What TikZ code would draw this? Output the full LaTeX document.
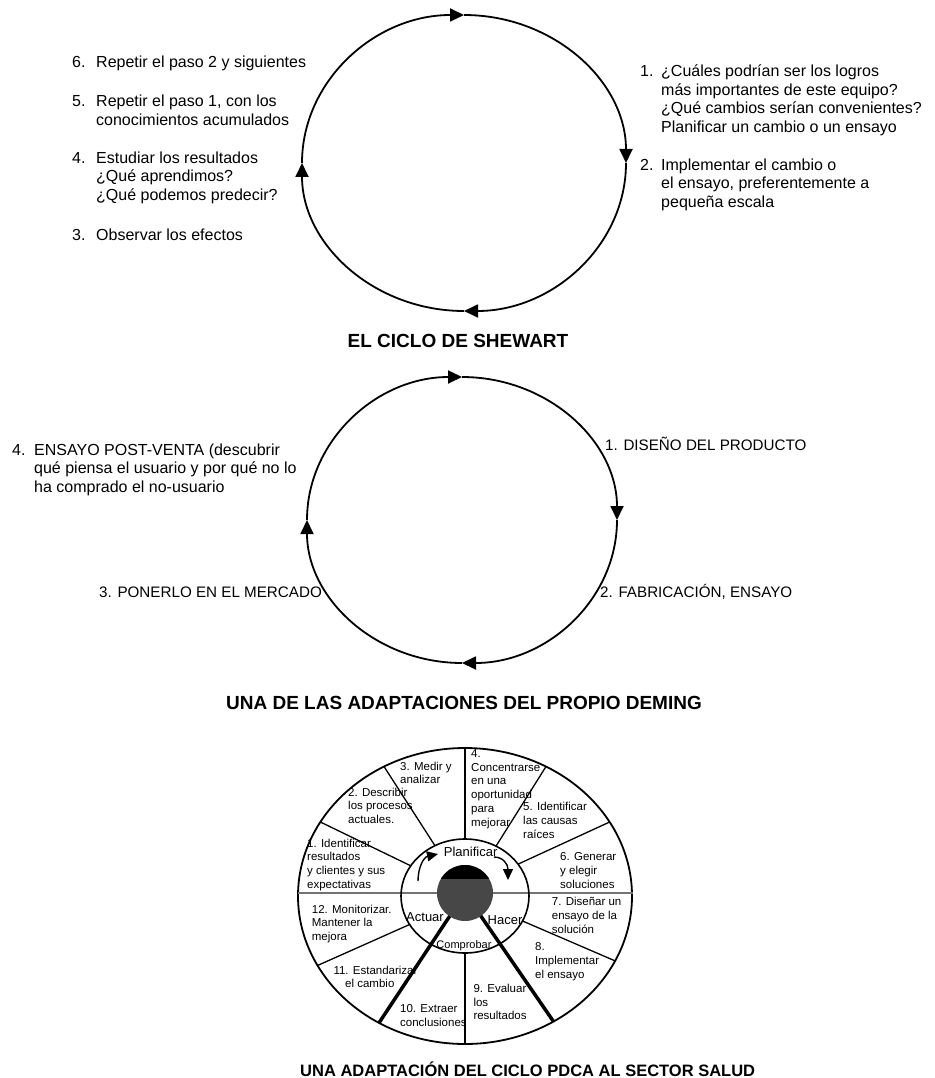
\documentclass[tikz,border=0pt]{standalone}
\usepackage{fontspec}
\setmainfont{Liberation Sans}
\usetikzlibrary{arrows.meta,calc}

% one block of left-aligned lines, baseline on the first line
\newcommand{\txtblock}[1]{\begin{tabular}[t]{@{}l@{}}#1\end{tabular}}
% numbered item with hanging indent: #1 indent, #2 number, #3 rows
\newcommand{\numitem}[3]{\begin{tabular}[t]{@{}p{#1}@{}l@{}}#2 & #3\end{tabular}}

\tikzset{
  cycarrow/.style={line width=1.8pt, -{Triangle[length=14pt,width=13pt]}},
  steptext/.style={inner sep=0pt, anchor=base west, font=\fontsize{16}{18.5}\selectfont},
  capstext/.style={inner sep=0pt, anchor=base west, font=\fontsize{15.2}{18.5}\selectfont},
  segtext/.style={inner sep=0pt, anchor=base west, font=\fontsize{11.5}{13.7}\selectfont},
  titletext/.style={inner sep=0pt, anchor=base, font=\fontsize{19}{22}\selectfont\bfseries},
  phasetext/.style={inner sep=0pt, font=\fontsize{13}{15}\selectfont},
  spoke/.style={line width=1.3pt},
  heavyspoke/.style={line width=3.5pt},
  turn/.style={line width=1.4pt, -{Triangle[length=11pt,width=10pt]}},
}

\begin{document}
\begin{tikzpicture}[x=1pt,y=-1pt]
\useasboundingbox (0,0) rectangle (934,1078);

% ---------------- Shewhart cycle ----------------
\coordinate (aW) at (302,163);
\coordinate (aN) at (464,15);
\coordinate (aE) at (626,163);
\coordinate (aS) at (464,311);
\draw[cycarrow] (aW) .. controls (302,81.3) and (374.5,15) .. (aN);
\draw[cycarrow] (aN) .. controls (553.5,15) and (626,81.3) .. (aE);
\draw[cycarrow] (aE) .. controls (626,244.7) and (553.5,311) .. (aS);
\draw[cycarrow] (aS) .. controls (374.5,311) and (302,244.7) .. (aW);

\node[steptext] (a6) at (72,68) {\numitem{24pt}{6.}{Repetir el paso 2 y siguientes}};
\node[steptext] (a5) at (72,107) {\numitem{24pt}{5.}{Repetir el paso 1, con los\\ & conocimientos acumulados}};
\node[steptext] (a4) at (72,163.5) {\numitem{24pt}{4.}{Estudiar los resultados\\ & ¿Qué aprendimos?\\ & ¿Qué podemos predecir?}};
\node[steptext] (a3) at (72,240.5) {\numitem{24pt}{3.}{Observar los efectos}};
\node[steptext] (a1) at (640,77) {\numitem{21pt}{1.}{¿Cuáles podrían ser los logros\\ & más importantes de este equipo?\\ & ¿Qué cambios serían convenientes?\\ & Planificar un cambio o un ensayo}};
\node[steptext] (a2) at (640,170.5) {\numitem{21pt}{2.}{Implementar el cambio o\\ & el ensayo, preferentemente a\\ & pequeña escala}};

\node[titletext] (t1) at (458,347) {EL CICLO DE SHEWART};

% ---------------- Deming adaptation ----------------
\coordinate (bW) at (307,520);
\coordinate (bN) at (462,377);
\coordinate (bE) at (617,520);
\coordinate (bS) at (462,663);
\draw[cycarrow] (bW) .. controls (307,441) and (376.4,377) .. (bN);
\draw[cycarrow] (bN) .. controls (547.6,377) and (617,441) .. (bE);
\draw[cycarrow] (bE) .. controls (617,599) and (547.6,663) .. (bS);
\draw[cycarrow] (bS) .. controls (376.4,663) and (307,599) .. (bW);

\node[steptext] (b4) at (12,455) {\numitem{22pt}{4.}{ENSAYO POST-VENTA (descubrir\\ & qué piensa el usuario y por qué no lo\\ & ha comprado el no-usuario}};
\node[capstext] (b1) at (605,450.5) {1. DISEÑO DEL PRODUCTO};
\node[capstext] (b2) at (600,597) {2. FABRICACIÓN, ENSAYO};
\node[capstext] (b3) at (99,597) {3. PONERLO EN EL MERCADO};

\node[titletext] (t2) at (464,709) {UNA DE LAS ADAPTACIONES DEL PROPIO DEMING};

% ---------------- PDCA wheel ----------------
\coordinate (W) at (465,896);
\coordinate (D) at (465,893);

\draw[line width=1.8pt] (W) ellipse [x radius=167pt, y radius=148pt];

% thin dividers between the twelve steps
\foreach \a/\b in {90/90, 118/119, 148/150, 61/61, 34/30, -26/-26, -150/-152}
  \draw[spoke] ($(W)+(\a:64pt and 57pt)$) -- ($(W)+(\b:167pt and 148pt)$);
\draw[line width=2pt] ($(W)+(-90:64pt and 57pt)$) -- ($(W)+(-90:167pt and 148pt)$);
% heavy dividers from the hub
\draw[heavyspoke] (D) -- ($(W)+(-58:167pt and 148pt)$);
\draw[heavyspoke] (D) -- ($(W)+(-121:167pt and 148pt)$);
% horizontal axis
\draw[line width=2.5pt, black!55] (298,893) -- (633,893);

% inner ring and hub
\draw[line width=1.6pt] (W) ellipse [x radius=64pt, y radius=57pt];
\fill[black!72] (D) circle [radius=28pt];
\begin{scope}
  \clip (430,860) rectangle (500,878);
  \fill[black] (D) circle [radius=28pt];
\end{scope}

% phases
\node[phasetext] (pl) at (470.6,851.7) {Planificar};
\node[phasetext] (ac) at (425,917) {Actuar};
\node[phasetext] (ha) at (505,920) {Hacer};
\node[phasetext, font=\fontsize{11}{13}\selectfont] (co) at (464,946) {Comprobar};

\coordinate (l0) at (418,881);
\coordinate (l1) at (438,854);
\draw[turn] (l0) .. controls (418,867) and (424,857) .. (l1);
\coordinate (r0) at (494,857);
\coordinate (r1) at (508,880);
\draw[turn] (r0) .. controls (503,857) and (508,864) .. (r1);

% step labels
\node[segtext] (s1) at (307,847) {\txtblock{1. Identificar\\resultados\\y clientes y sus\\expectativas}};
\node[segtext] (s2) at (348,796) {\txtblock{2. Describir\\los procesos\\actuales.}};
\node[segtext] (s3) at (400,770) {\txtblock{3. Medir y\\analizar}};
\node[segtext] (s4) at (471,757.5) {\txtblock{4.\\Concentrarse\\en una\\oportunidad\\para\\mejorar}};
\node[segtext] (s5) at (523,810.7) {\txtblock{5. Identificar\\las causas\\raíces}};
\node[segtext] (s6) at (560,860.7) {\txtblock{6. Generar\\y elegir\\soluciones}};
\node[segtext] (s7) at (551.7,905.7) {\txtblock{7. Diseñar un\\ensayo de la\\solución}};
\node[segtext] (s8) at (535,950.7) {\txtblock{8.\\Implementar\\el ensayo}};
\node[segtext] (s9) at (473.3,992.3) {\txtblock{9. Evaluar\\los\\resultados}};
\node[segtext] (s10) at (400,1012.3) {\txtblock{10. Extraer\\conclusiones}};
\node[segtext] (s11) at (333.3,974) {\txtblock{11. Estandarizar\\\hspace*{11.7pt}el cambio}};
\node[segtext] (s12) at (311.7,913) {\txtblock{12. Monitorizar.\\Mantener la\\mejora}};

\node[titletext, anchor=base west, font=\fontsize{16.5}{19}\selectfont\bfseries] (t3) at (300,1076) {UNA ADAPTACIÓN DEL CICLO PDCA AL SECTOR SALUD};
\end{tikzpicture}
\end{document}
